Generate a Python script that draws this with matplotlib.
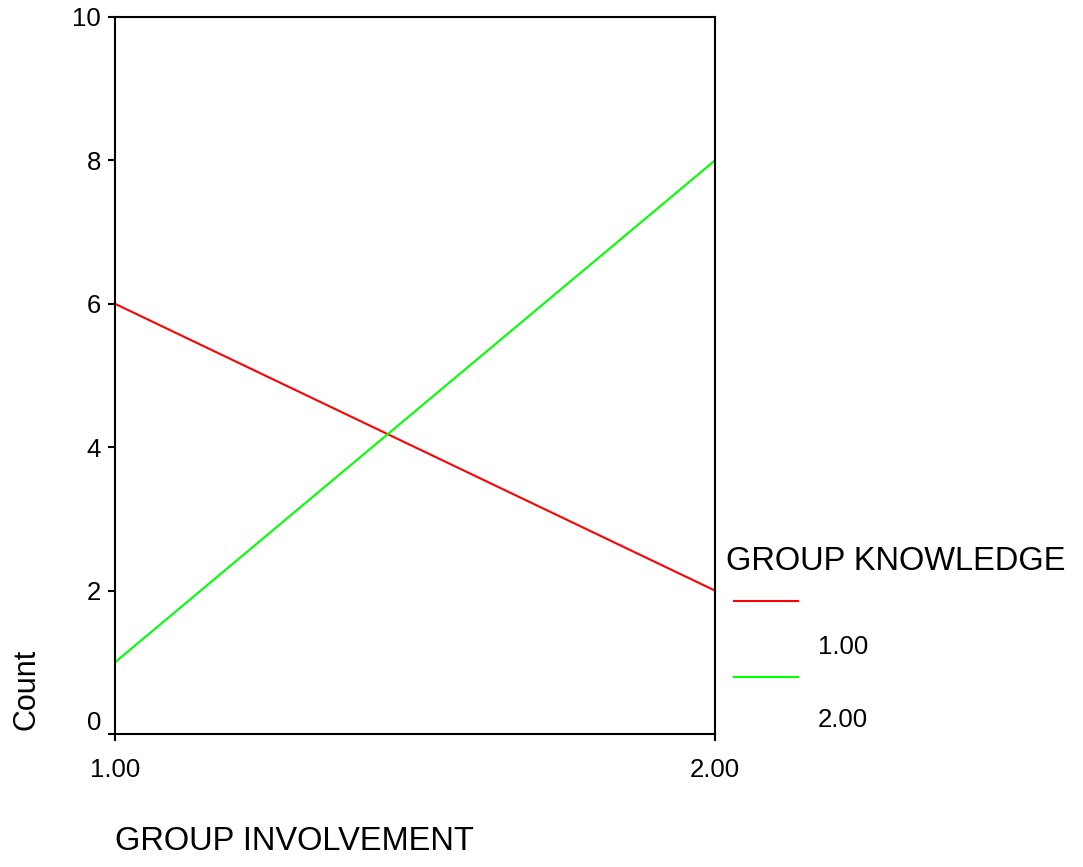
import matplotlib
matplotlib.use("Agg")
import matplotlib.pyplot as plt
from matplotlib.lines import Line2D
from matplotlib.transforms import offset_copy

plt.rcParams['font.family'] = ['Liberation Sans', 'DejaVu Sans']

# data
involvement = [1.0, 2.0]
groups = ["1.00", "2.00"]
counts = {"1.00": [6, 2], "2.00": [1, 8]}
colors = {"1.00": "#ff0000", "2.00": "#00ff00"}
yticks = [0, 2, 4, 6, 8, 10]

fig = plt.figure(figsize=(10.83, 8.67), dpi=100)
ax = fig.add_axes([0.1062, 0.1534, 0.554, 0.8270])

for g in groups:
    ax.plot(involvement, counts[g], color=colors[g], lw=1.5)

ax.set_xlim(1, 2)
ax.set_ylim(0, 10)
ax.set_xticks(involvement)
ax.set_xticklabels(["%.2f" % v for v in involvement])
ax.set_yticks(yticks)
ax.tick_params(direction='out', length=5, width=1.5, labelsize=18.5, pad=5)
ax.tick_params(axis='x', pad=12)
for s in ax.spines.values():
    s.set_linewidth(1.5)

# SPSS puts the "0" label a bit above the axis line
lab0 = ax.get_yticklabels()[0]
lab0.set_transform(offset_copy(lab0.get_transform(), fig=fig, x=0, y=14, units='dots'))

fig.text(0.1062, 1 - 841 / 867, "GROUP INVOLVEMENT", fontsize=23.5, ha='left', va='center')
fig.text(26 / 1083, 1 - 730 / 867, "Count", fontsize=22, rotation=90, ha='center', va='bottom')

# legend, drawn by hand to copy the odd layout
fig.text(726 / 1083, 1 - 561 / 867, "GROUP KNOWLEDGE", fontsize=23.5, ha='left', va='center')
line_y = [601, 677]
lab_y = [647, 720]
for g, ly, ty in zip(groups, line_y, lab_y):
    fig.add_artist(Line2D([734 / 1083, 798 / 1083], [1 - ly / 867, 1 - ly / 867],
                          color=colors[g], lw=1.5))
    fig.text(818 / 1083, 1 - ty / 867, g, fontsize=18.5, ha='left', va='center')

fig.savefig("out.png", dpi=100)
